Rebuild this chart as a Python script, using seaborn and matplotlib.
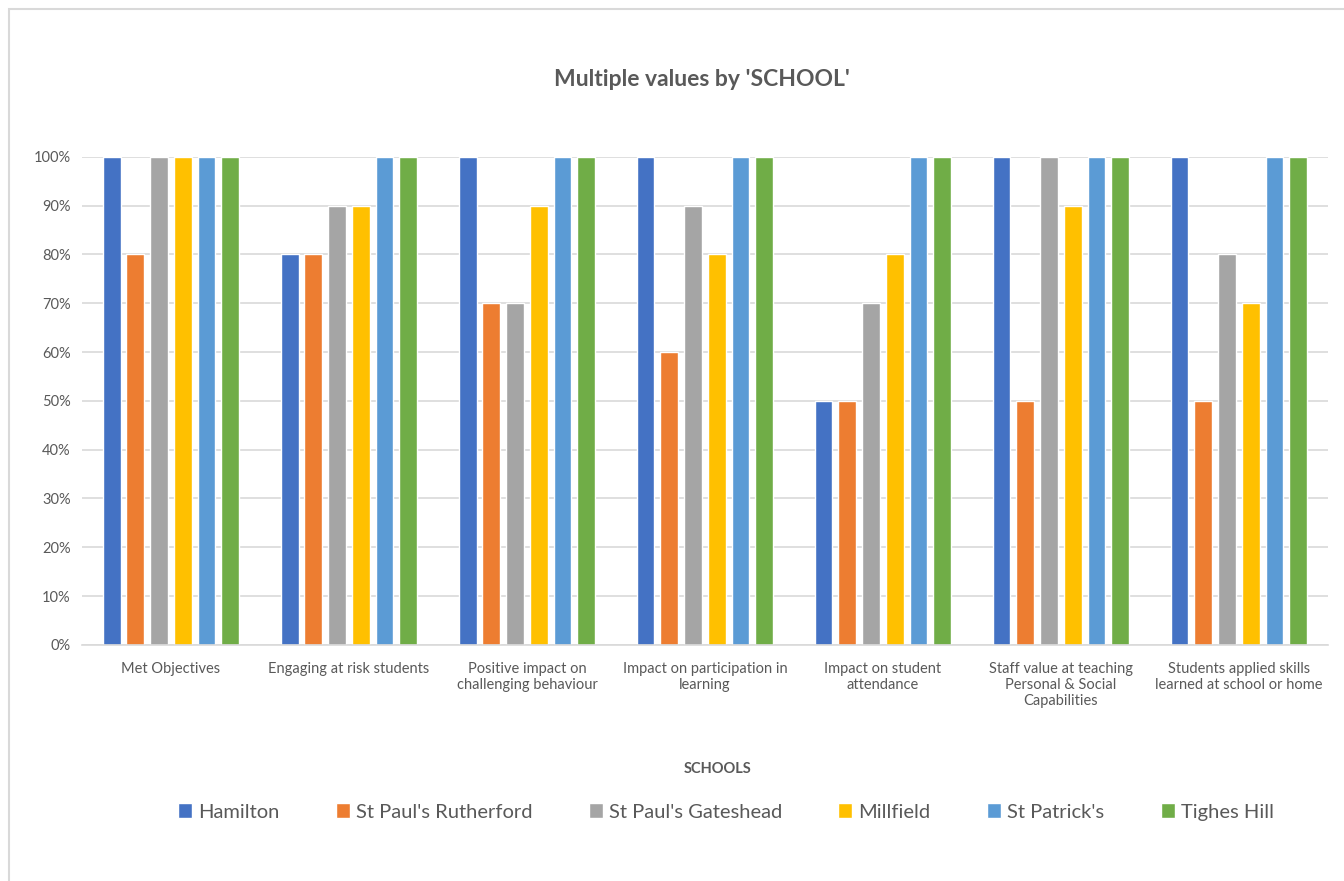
import pandas as pd
import matplotlib.pyplot as plt
import seaborn as sns
from matplotlib.patches import Rectangle
from matplotlib.ticker import PercentFormatter

categories = ['Met Objectives', 'Engaging at risk students',
              'Positive impact on\nchallenging behaviour',
              'Impact on participation in\nlearning',
              'Impact on student\nattendance',
              'Staff value at teaching\nPersonal & Social\nCapabilities',
              'Students applied skills\nlearned at school or home']
schools = ['Hamilton', "St Paul's Rutherford", "St Paul's Gateshead",
           'Millfield', "St Patrick's", 'Tighes Hill']
hamilton = [1.0, 0.8, 1.0, 1.0, 0.5, 1.0, 1.0]
rutherford = [0.8, 0.8, 0.7, 0.6, 0.5, 0.5, 0.5]
gateshead = [1.0, 0.9, 0.7, 0.9, 0.7, 1.0, 0.8]
millfield = [1.0, 0.9, 0.9, 0.8, 0.8, 0.9, 0.7]
patricks = [1.0, 1.0, 1.0, 1.0, 1.0, 1.0, 1.0]
tighes = [1.0, 1.0, 1.0, 1.0, 1.0, 1.0, 1.0]
colors = ['#4472C4', '#ED7D31', '#A5A5A5', '#FFC000', '#5B9BD5', '#70AD47']

series = [hamilton, rutherford, gateshead, millfield, patricks, tighes]
rows = []
for s, vals in zip(schools, series):
    for c, v in zip(categories, vals):
        rows.append({'category': c, 'school': s, 'value': v})
df = pd.DataFrame(rows)

sns.set_style('white')
plt.rcParams['font.family'] = ['Lato', 'DejaVu Sans']
grey = '#595959'

fig = plt.figure(figsize=(13.44, 8.81), dpi=100)
ax = fig.add_axes([0.061, 0.268, 0.927, 0.554])

sns.barplot(data=df, x='category', y='value', hue='school', palette=colors,
            width=0.8, gap=0.25, saturation=1, ax=ax, legend=True)

ax.set_ylim(0, 1)
ax.set_yticks([i / 10 for i in range(11)])
ax.yaxis.set_major_formatter(PercentFormatter(1.0, decimals=0))
ax.grid(axis='y', color='#D9D9D9', linewidth=1.2)
ax.set_axisbelow(True)
for side in ['left', 'right', 'top']:
    ax.spines[side].set_visible(False)
ax.spines['bottom'].set_color('#D9D9D9')
ax.spines['bottom'].set_linewidth(1.2)
ax.tick_params(axis='both', length=0, colors=grey, labelsize=10.5, pad=12)
ax.tick_params(axis='y', pad=8)
ax.set_ylabel('')
ax.set_xlabel('SCHOOLS', fontsize=10.5, fontweight='bold', color=grey, labelpad=39)
ax.xaxis.label.set_x(0.51)

handles, labels = ax.get_legend_handles_labels()
ax.get_legend().remove()
leg = fig.legend(handles, labels, loc='center', bbox_to_anchor=(0.54, 1 - 812 / 881),
                 ncol=6, frameon=False, fontsize=14.5, handlelength=0.7,
                 handleheight=0.7, handletextpad=0.3, columnspacing=2.8)
for t in leg.get_texts():
    t.set_color(grey)

fig.suptitle("Multiple values by 'SCHOOL'", x=0.522, y=1 - 80 / 881, va='center',
             fontsize=16.5, fontweight='bold', color=grey)

fig.patches.append(Rectangle((9 / 1344, -0.05), 1.2, 1 - 9 / 881 + 0.05,
                             transform=fig.transFigure, fill=False,
                             edgecolor='#D9D9D9', linewidth=1.5))

fig.savefig('out.png', dpi=100, facecolor='white')
